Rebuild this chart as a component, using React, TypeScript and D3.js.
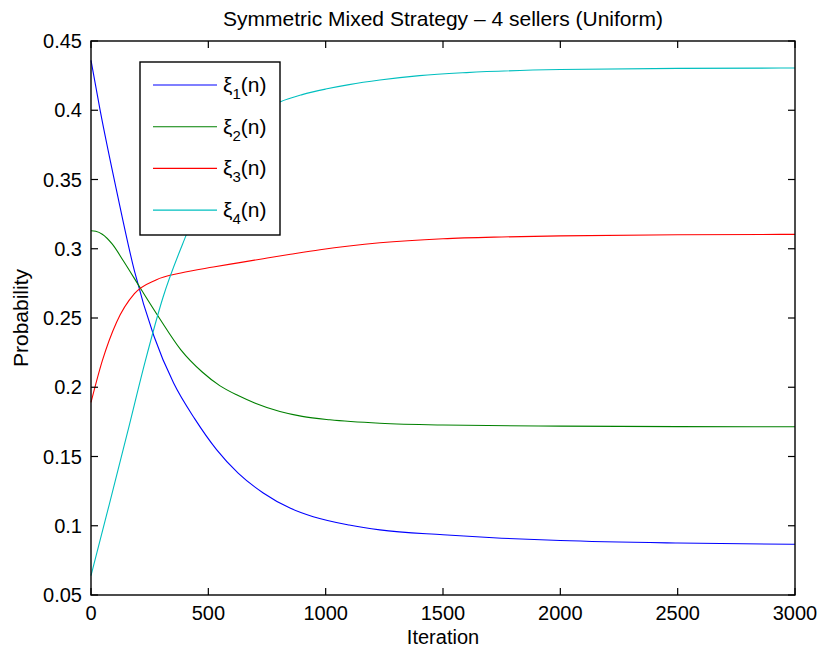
import React, { useEffect, useRef } from 'react';
import * as d3 from 'd3';

// Values (iteration, probability)
const iterBlue = [0, 40, 109, 185, 268, 352, 443, 535, 627, 734, 850, 947, 1100, 1231, 1500, 1750, 2000, 2500, 3000];
const xi1 = [0.436, 0.399, 0.342, 0.284, 0.237, 0.203, 0.177, 0.155, 0.138, 0.1237, 0.1126, 0.1065, 0.1005, 0.097, 0.0935, 0.091, 0.0893, 0.0875, 0.0866];

const iterGreen = [0, 20, 48, 90, 139, 216, 291, 383, 474, 550, 627, 700, 805, 900, 1018, 1231, 1500, 2000, 2500, 3000];
const xi2 = [0.313, 0.3126, 0.3105, 0.3035, 0.291, 0.270, 0.250, 0.227, 0.211, 0.201, 0.194, 0.1885, 0.1825, 0.179, 0.1765, 0.174, 0.1727, 0.1719, 0.1716, 0.1715];

const iterRed = [0, 48, 109, 185, 277, 383, 521, 627, 734, 850, 976, 1100, 1231, 1500, 1750, 2000, 2500, 3000];
const xi3 = [0.189, 0.219, 0.247, 0.2676, 0.2775, 0.2825, 0.2868, 0.2898, 0.2928, 0.296, 0.2993, 0.302, 0.3043, 0.3072, 0.3085, 0.3093, 0.3101, 0.3104];

const iterCyan = [0, 78, 155, 231, 307, 406, 470, 521, 600, 663, 730, 805, 900, 1000, 1100, 1231, 1400, 1600, 2000, 2500, 3000];
const xi4 = [0.064, 0.1155, 0.167, 0.2187, 0.265, 0.310, 0.336, 0.354, 0.376, 0.390, 0.3995, 0.406, 0.4113, 0.4153, 0.4185, 0.4218, 0.425, 0.4272, 0.4294, 0.4302, 0.4305];

const seriesNames = ['1', '2', '3', '4'];
const seriesColors = ['#0000ff', '#008000', '#ff0000', '#00bfbf'];

const xTicks = [0, 500, 1000, 1500, 2000, 2500, 3000];
const yTicks = [0.05, 0.1, 0.15, 0.2, 0.25, 0.3, 0.35, 0.4, 0.45];

const App = () => {
  const ref = useRef<SVGSVGElement | null>(null);

  useEffect(() => {
    const width = 824;
    const height = 658;
    const left = 91, right = 795, top = 41, bottom = 595;
    const font = '"Liberation Sans", Arial, Helvetica, sans-serif';

    const svg = d3.select(ref.current);
    svg.selectAll('*').remove();
    svg.attr('width', width).attr('height', height);

    const x = d3.scaleLinear().domain([0, 3000]).range([left, right]);
    const y = d3.scaleLinear().domain([0.05, 0.45]).range([bottom, top]);

    svg.append('rect').attr('width', width).attr('height', height).attr('fill', '#fff');

    const series = [
      { it: iterBlue, v: xi1 },
      { it: iterGreen, v: xi2 },
      { it: iterRed, v: xi3 },
      { it: iterCyan, v: xi4 },
    ];

    const line = d3.line<[number, number]>()
      .x(d => x(d[0]))
      .y(d => y(d[1]))
      .curve(d3.curveMonotoneX);

    series.forEach((s, i) => {
      const pts = s.it.map((t, k) => [t, s.v[k]] as [number, number]);
      svg.append('path')
        .attr('d', line(pts))
        .attr('fill', 'none')
        .attr('stroke', seriesColors[i])
        .attr('stroke-width', 1.1);
    });

    // axes box with inward ticks on all sides
    const tickLen = 7;
    const ax = svg.append('g').attr('stroke', '#000').attr('stroke-width', 1.2);
    xTicks.forEach(t => {
      ax.append('line').attr('x1', x(t)).attr('x2', x(t)).attr('y1', bottom).attr('y2', bottom - tickLen);
      ax.append('line').attr('x1', x(t)).attr('x2', x(t)).attr('y1', top).attr('y2', top + tickLen);
    });
    yTicks.forEach(t => {
      ax.append('line').attr('x1', left).attr('x2', left + tickLen).attr('y1', y(t)).attr('y2', y(t));
      ax.append('line').attr('x1', right).attr('x2', right - tickLen).attr('y1', y(t)).attr('y2', y(t));
    });
    svg.append('rect')
      .attr('x', left).attr('y', top)
      .attr('width', right - left).attr('height', bottom - top)
      .attr('fill', 'none').attr('stroke', '#000').attr('stroke-width', 1.4);

    const txt = svg.append('g').attr('font-family', font).attr('font-size', 20).attr('fill', '#000');

    xTicks.forEach(t => {
      txt.append('text').attr('x', x(t)).attr('y', 620)
        .attr('text-anchor', 'middle').text(String(t));
    });
    yTicks.forEach(t => {
      txt.append('text').attr('x', 82).attr('y', y(t) + 7)
        .attr('text-anchor', 'end').text(d3.format('~g')(t));
    });

    txt.append('text').attr('x', (left + right) / 2).attr('y', 644)
      .attr('text-anchor', 'middle').attr('font-size', 20).text('Iteration');
    txt.append('text')
      .attr('transform', `translate(28, ${(top + bottom) / 2}) rotate(-90)`)
      .attr('text-anchor', 'middle').attr('font-size', 21).text('Probability');
    txt.append('text').attr('x', (left + right) / 2).attr('y', 26)
      .attr('text-anchor', 'middle').attr('font-size', 21)
      .text('Symmetric Mixed Strategy \u2013 4 sellers (Uniform)');

    // legend
    const lg = svg.append('g');
    lg.append('rect')
      .attr('x', 140).attr('y', 62).attr('width', 140).attr('height', 173)
      .attr('fill', '#fff').attr('stroke', '#000').attr('stroke-width', 1.4);
    seriesNames.forEach((n, i) => {
      const ly = 85 + i * 41.7;
      lg.append('line')
        .attr('x1', 153).attr('x2', 217).attr('y1', ly).attr('y2', ly)
        .attr('stroke', seriesColors[i]).attr('stroke-width', 1.1);
      const t = lg.append('text')
        .attr('x', 223).attr('y', ly + 7)
        .attr('font-family', font).attr('font-size', 21);
      t.append('tspan').text('\u03be');
      t.append('tspan').attr('font-size', 15).attr('dy', 7).text(n);
      t.append('tspan').attr('dy', -7).text('(n)');
    });

    return () => {
      svg.selectAll('*').remove();
    };
  }, []);

  return <svg ref={ref} style={{ position: 'absolute', left: 0, top: 0 }} />;
};

export default App;
